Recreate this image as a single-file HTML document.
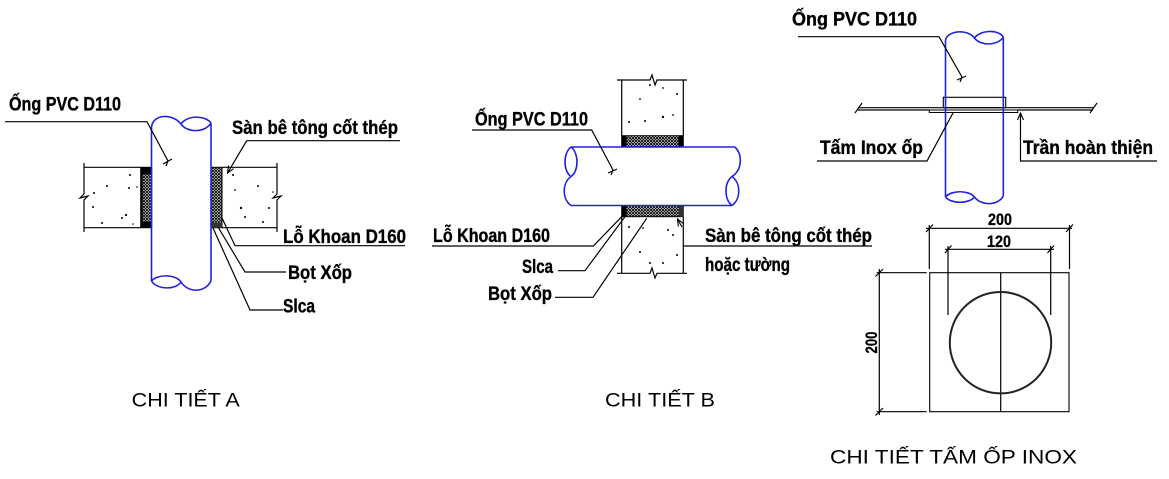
<!DOCTYPE html>
<html><head><meta charset="utf-8"><style>
html,body{margin:0;padding:0;background:#fff;}
svg{display:block;}
.lb{font-family:"Liberation Sans",sans-serif;font-weight:bold;font-size:19px;fill:#000;stroke:#000;stroke-width:0.35;}
.cap{font-family:"Liberation Sans",sans-serif;font-size:19px;fill:#000;}
.dm{font-family:"Liberation Sans",sans-serif;font-weight:bold;font-size:17px;fill:#000;stroke:#000;stroke-width:0.3;}
.k{stroke:#000;stroke-width:1.2;fill:none;}
.p{stroke:#2222dd;stroke-width:1.6;fill:none;}
</style></head><body>
<svg width="1169" height="479" viewBox="0 0 1169 479" xmlns="http://www.w3.org/2000/svg">
<defs>
<pattern id="h" width="3" height="3" patternUnits="userSpaceOnUse">
<rect width="3" height="3" fill="#fff"/>
<path d="M0,0 L3,3 M3,0 L0,3" stroke="#000" stroke-width="0.9"/>
</pattern>
<marker id="ar" markerWidth="8" markerHeight="8" refX="7" refY="4" orient="auto" markerUnits="userSpaceOnUse">
<path d="M0,1 L7,4 L0,7" fill="none" stroke="#000" stroke-width="1.1"/>
</marker>
</defs>

<!-- ============ DETAIL A ============ -->
<path class="k" d="M84,167.3 L140.7,167.3 M222,167.3 L277,167.3 M84,227.7 L140.7,227.7 M222,227.7 L277,227.7"/>
<path class="k" d="M84,163 L84,194 L80,198 L88,196 L84,200 L84,232"/>
<path class="k" d="M277,163 L277,194 L273,198 L281,196 L277,200 L277,232"/>
<rect x="140.7" y="167.3" width="11" height="60.4" fill="url(#h)" stroke="#000" stroke-width="1"/>
<rect x="140.7" y="167.3" width="11" height="7" fill="#000"/>
<rect x="140.7" y="221.7" width="11" height="6" fill="#000"/>
<rect x="140.7" y="167.3" width="2" height="60.4" fill="#000"/>
<rect x="211" y="167.3" width="11" height="60.4" fill="url(#h)" stroke="#000" stroke-width="1"/>
<rect x="211" y="223" width="11" height="4.7" fill="#333"/>
<g fill="#000">
<circle cx="130" cy="175" r="1"/><circle cx="107" cy="186" r="1"/><circle cx="129" cy="188" r="1"/><circle cx="137" cy="187" r="0.8"/><circle cx="94" cy="193" r="1"/><circle cx="93" cy="207" r="1"/><circle cx="102" cy="223" r="1"/><circle cx="126" cy="215" r="1.1"/><circle cx="122" cy="218" r="1"/><circle cx="133" cy="224" r="0.8"/>
<circle cx="233" cy="175" r="1"/><circle cx="235" cy="190" r="0.9"/><circle cx="258" cy="186" r="1"/><circle cx="273" cy="192" r="0.8"/><circle cx="241" cy="208" r="1.2"/><circle cx="269" cy="208" r="1"/><circle cx="245" cy="217" r="1"/><circle cx="263" cy="222" r="1"/>
</g>
<path class="p" d="M151.5,127 L151.5,281 M211,123 L211,281
M151.5,127 C153,114 172,113 181,124
M181,124 C187,115 205,115 211,123 M181,124 C187,133 205,133 211,123
M151.5,281 C157,274 176,274 181,282 M151.5,281 C157,290 176,290 181,282
M181,282 C188,293 205,293 211,281"/>
<path class="k" d="M5,121.7 L147,121.7 L168,161"/>
<path class="k" d="M163,164 L172,159 M168,161 L166,166"/>
<path class="k" d="M246.7,140.7 L400,140.7"/>
<path class="k" d="M246.7,140.7 L227.5,173" marker-end="url(#ar)"/>
<path class="k" d="M405,245.7 L235,245.7 L222,218"/>
<path class="k" d="M286,272 L245,272 L218,227"/>
<path class="k" d="M283,310 L250,310 L213,228"/>
<text class="lb" x="9" y="110.5" textLength="112" lengthAdjust="spacingAndGlyphs">Ống PVC D110</text>
<text class="lb" x="232" y="134" textLength="166" lengthAdjust="spacingAndGlyphs">Sàn bê tông cốt thép</text>
<text class="lb" x="283" y="243" textLength="123" lengthAdjust="spacingAndGlyphs">Lỗ Khoan D160</text>
<text class="lb" x="288" y="279" textLength="64" lengthAdjust="spacingAndGlyphs">Bọt Xốp</text>
<text class="lb" x="283" y="312.5" textLength="32" lengthAdjust="spacingAndGlyphs">Slca</text>
<text class="cap" x="131.7" y="406.7" textLength="108" lengthAdjust="spacingAndGlyphs">CHI TIẾT A</text>

<!-- ============ DETAIL B ============ -->
<path class="k" d="M621.7,80 L621.7,136 M683.3,80 L683.3,136 M621.7,216.7 L621.7,273.3 M683.3,216.7 L683.3,273.3"/>
<path class="k" d="M617,80 L650,80 L652,75 L655,85 L657,80 L687,80"/>
<path class="k" d="M617,273.3 L650,273.3 L652,268 L655,278 L657,273.3 L687,273.3"/>
<rect x="621.7" y="135.7" width="61.6" height="11" fill="url(#h)" stroke="#000" stroke-width="1"/>
<rect x="621.7" y="135.7" width="5" height="11" fill="#000"/>
<rect x="678.3" y="135.7" width="5" height="11" fill="#000"/>
<rect x="621.7" y="205.5" width="61.6" height="11.2" fill="url(#h)" stroke="#000" stroke-width="1"/>
<rect x="621.7" y="205.5" width="5" height="11.2" fill="#000"/>
<rect x="679" y="205.5" width="4.3" height="11.2" fill="#333"/>
<g fill="#000">
<circle cx="650" cy="85" r="1"/><circle cx="663" cy="88" r="0.9"/><circle cx="677" cy="94" r="1"/><circle cx="640" cy="99" r="0.9"/><circle cx="629" cy="122" r="1"/><circle cx="645" cy="121" r="1"/><circle cx="663" cy="117" r="1.2"/><circle cx="673" cy="115" r="0.9"/>
<circle cx="629" cy="227" r="1"/><circle cx="643" cy="228" r="0.9"/><circle cx="668" cy="230" r="1"/><circle cx="673" cy="235" r="1"/><circle cx="640" cy="252" r="1"/><circle cx="677" cy="255" r="1"/><circle cx="650" cy="263" r="1"/><circle cx="663" cy="263" r="1"/>
</g>
<path class="p" d="M571,147 L735,147 M571,205.5 L732,205.5
M571,147 C563,153 563,171 571,176.5 M571,147 C579,153 579,171 571,176.5
M571,176.5 C562,183 562,199 571,205.5
M735,147 C743,155 742,170 732,176.5
M732,176.5 C724,183 724,199 732,205.5 M732,176.5 C741,183 741,199 732,205.5"/>
<path class="k" d="M472,130 L591.7,130 L613,170"/>
<path class="k" d="M608,173 L617,169 M613,170 L611,175"/>
<path class="k" d="M432,246 L593.3,246 L621.7,216.7"/>
<path class="k" d="M558,270.7 L585,270.7 L625,216.7"/>
<path class="k" d="M555,297.3 L593,297.3 L646.7,218.3"/>
<path class="k" d="M683.3,246 L872,246"/>
<path class="k" d="M682,227 L677.5,219" marker-end="url(#ar)"/>
<text class="lb" x="475" y="125.5" textLength="113" lengthAdjust="spacingAndGlyphs">Ống PVC D110</text>
<text class="lb" x="433" y="242" textLength="117" lengthAdjust="spacingAndGlyphs">Lỗ Khoan D160</text>
<text class="lb" x="522" y="273" textLength="31" lengthAdjust="spacingAndGlyphs">Slca</text>
<text class="lb" x="488" y="300" textLength="64" lengthAdjust="spacingAndGlyphs">Bọt Xốp</text>
<text class="lb" x="705" y="242" textLength="167" lengthAdjust="spacingAndGlyphs">Sàn bê tông cốt thép</text>
<text class="lb" x="705" y="271" textLength="85" lengthAdjust="spacingAndGlyphs">hoặc tường</text>
<text class="cap" x="605" y="406.7" textLength="110" lengthAdjust="spacingAndGlyphs">CHI TIẾT B</text>

<!-- ============ DETAIL C (section) ============ -->
<path class="k" d="M858,107.7 L1093,107.7 M858,110 L929.3,110 M1017.7,110 L1093,110" stroke-width="1"/>
<path class="k" d="M855,113 L862,103 M1090,113 L1097,103"/>
<rect x="943.3" y="97.3" width="62.4" height="10.4" fill="none" stroke="#000" stroke-width="1.1"/>
<rect x="929.3" y="110" width="88.4" height="2.5" fill="none" stroke="#000" stroke-width="1"/>
<path class="p" d="M945.5,40 L945.5,197 M1003.3,37 L1003.3,196
M945.5,40 C948,30 968,29 974.5,38
M974.5,38 C980,30 998,29 1003.3,37 M974.5,38 C980,46 998,46 1003.3,37
M945.5,197 C951,190 969,190 974.5,197 M945.5,197 C951,204 969,204 974.5,197
M974.5,197 C981,206 998,206 1003.3,196"/>
<path class="k" d="M798,36.7 L939,36.7 L962,77"/>
<path class="k" d="M957,80 L966,76 M962,77 L960,82"/>
<path class="k" d="M817,161 L927,161 L953,113"/>
<path class="k" d="M1157,161 L1020.5,161 L1020.5,113" marker-end="url(#ar)"/>
<text class="lb" x="792" y="25.5" textLength="125" lengthAdjust="spacingAndGlyphs">Ống PVC D110</text>
<text class="lb" x="820" y="154" textLength="103" lengthAdjust="spacingAndGlyphs">Tấm Inox ốp</text>
<text class="lb" x="1023" y="154" textLength="130" lengthAdjust="spacingAndGlyphs">Trần hoàn thiện</text>

<!-- ============ DETAIL C (plan) ============ -->
<rect x="929.7" y="272.7" width="139.3" height="139" fill="none" stroke="#000" stroke-width="1.1"/>
<path class="k" d="M1000.7,272.7 L1000.7,411.7" stroke-width="1"/>
<circle cx="1000.5" cy="342.7" r="50.7" fill="none" stroke="#222" stroke-width="2"/>
<path class="k" d="M926,228.3 L1072,228.3 M929.3,225 L929.3,269 M1069.5,225 L1069.5,269" stroke-width="1"/>
<path class="k" d="M926,232 L933,224.5 M1066,232 L1073,224.5"/>
<path class="k" d="M945,249.3 L1054,249.3 M948,246 L948,315 M1050.7,246 L1050.7,315" stroke-width="1"/>
<path class="k" d="M945,253 L951.5,245.5 M1047.5,253 L1054,245.5"/>
<path class="k" d="M879.3,269 L879.3,415 M876.7,272.7 L926.7,272.7 M876.7,411.7 L926.7,411.7" stroke-width="1"/>
<path class="k" d="M875.5,276.5 L883,269 M875.5,415.5 L883,408"/>
<text class="dm" x="988" y="225" textLength="24" lengthAdjust="spacingAndGlyphs">200</text>
<text class="dm" x="987" y="247" textLength="24" lengthAdjust="spacingAndGlyphs">120</text>
<text class="dm" transform="translate(877,342.5) rotate(-90)" x="0" y="0" text-anchor="middle" textLength="22" lengthAdjust="spacingAndGlyphs">200</text>
<text class="cap" x="830" y="463.5" textLength="247" lengthAdjust="spacingAndGlyphs">CHI TIẾT TẤM ỐP INOX</text>
</svg>
</body></html>
